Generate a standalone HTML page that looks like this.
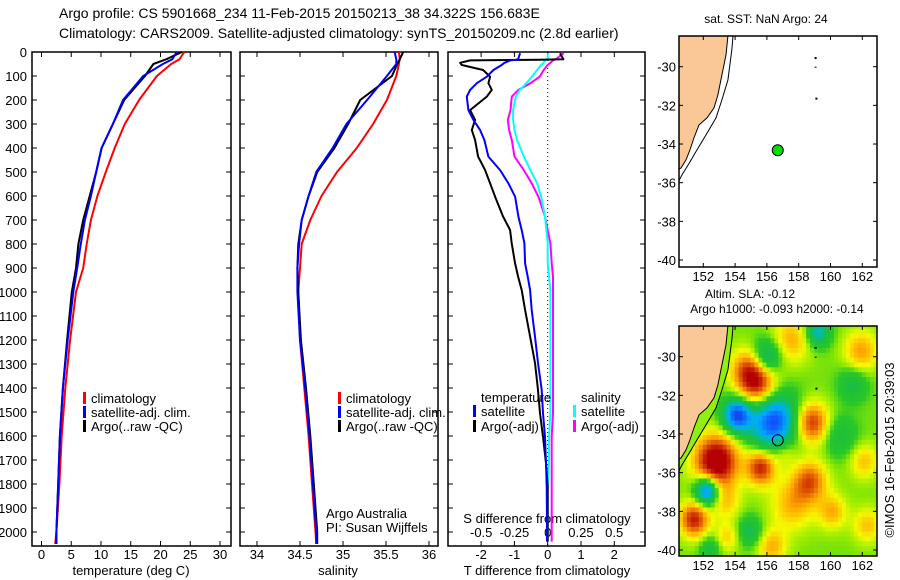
<!DOCTYPE html>
<html><head><meta charset="utf-8"><style>
body{margin:0;background:#fff;width:900px;height:580px;overflow:hidden}
svg{display:block}
text{font-family:"Liberation Sans",sans-serif;fill:#000}
</style></head><body>
<svg id="s" width="900" height="580" viewBox="0 0 900 580" xmlns="http://www.w3.org/2000/svg">
<text x="59" y="18" font-size="14">Argo profile: CS 5901668_234 11-Feb-2015 20150213_38 34.322S 156.683E</text>
<text x="59" y="38" font-size="14">Climatology: CARS2009. Satellite-adjusted climatology: synTS_20150209.nc (2.8d earlier)</text>
<g id="g"></g>
</svg>
<script>
// ---- data ----
const tDepth=[0,30,50,100,200,300,400,500,600,700,800,900,1000,1200,1400,1600,1800,2000,2050];
const tClim=[24.0,23.2,21.8,19.4,16.4,14.0,12.3,10.8,9.4,8.3,7.6,7.0,5.8,4.8,4.0,3.4,3.0,2.5,2.3];
const tSat=[22.7,22.0,20.4,17.1,13.7,12.0,10.1,9.2,8.3,7.3,6.6,6.0,5.35,4.4,3.6,3.1,2.8,2.5,2.5];
const tArgo=[23.6,21.0,18.8,17.4,13.9,12.0,10.1,9.2,8.1,7.0,6.2,5.8,5.1,4.3,3.6,3.1,2.8,2.5,2.5];
const sClim=[35.65,35.66,35.65,35.62,35.51,35.35,35.16,34.93,34.75,34.62,34.52,34.5,34.48,34.5,34.55,34.6,34.64,34.68,34.69];
const sSat=[35.6,35.62,35.62,35.51,35.28,35.04,34.88,34.69,34.6,34.52,34.49,34.47,34.47,34.5,34.56,34.61,34.65,34.69,34.69];
const sArgo=[35.7,35.66,35.63,35.57,35.2,35.06,34.9,34.7,34.6,34.52,34.48,34.47,34.48,34.51,34.57,34.62,34.66,34.7,34.7];
const dDepth=[5,30,32,35,45,54,75,103,130,158,186,242,283,325,367,436,492,547,603,686,742,797,881,936,992,1075,1186,1296,1408,1505,1603,1713,1811,1950,2040];
const dTArgo=[0.37,0.47,-0.23,-2.33,-2.63,-2.58,-1.94,-1.73,-1.78,-1.68,-1.83,-2.33,-2.18,-2.28,-2.18,-2.09,-1.88,-1.73,-1.58,-1.34,-1.13,-1.08,-0.98,-0.89,-0.78,-0.68,-0.53,-0.38,-0.29,-0.23,-0.14,-0.05,0,0,0];
const dTSat=[-0.83,-0.89,-0.95,-1.13,-1.3,-1.38,-1.63,-1.83,-2.13,-2.33,-2.43,-2.38,-2.23,-2.03,-1.9,-1.78,-1.43,-1.18,-0.98,-0.88,-0.78,-0.7,-0.68,-0.6,-0.53,-0.48,-0.38,-0.29,-0.18,-0.14,-0.08,-0.05,-0.03,-0.02,-0.02];
const dSArgo=[0.12,0.06,0.05,0.04,0.02,0,-0.03,-0.06,-0.13,-0.22,-0.27,-0.28,-0.30,-0.29,-0.27,-0.25,-0.18,-0.12,-0.07,-0.02,0,0.02,0.03,0.04,0.04,0.04,0.04,0.04,0.04,0.04,0.03,0.03,0.03,0.03,0.03];
const dSSat=[0,0,-0.01,-0.02,-0.03,-0.05,-0.08,-0.12,-0.16,-0.21,-0.24,-0.26,-0.26,-0.25,-0.23,-0.18,-0.13,-0.08,-0.05,-0.02,-0.01,0,0,0.01,0.02,0.02,0.02,0.02,0.02,0.02,0.01,0.01,0.0,0.0,0.0];
const depthTicks=[0,100,200,300,400,500,600,700,800,900,1000,1100,1200,1300,1400,1500,1600,1700,1800,1900,2000];
const tTicks=[0,5,10,15,20,25,30];
const sTicks=[34,34.5,35,35.5,36];
const sTickLabels=['34','34.5','35','35.5','36'];
const dTTicks=[-2,-1,0,1,2];
const dSTicks=[-0.5,-0.25,0,0.25,0.5];
const dSTickLabels=['-0.5','-0.25','0','0.25','0.5'];
const lonTicks=[152,154,156,158,160,162];
const latTicks=[-30,-32,-34,-36,-38,-40];
const argoLon=156.683, argoLat=-34.322;
const coastLon=[153.55,153.43,153.17,152.92,152.67,152.23,151.73,151.41,151.16,150.91,150.6,150.47];
const coastLat=[-28.41,-29.39,-30.43,-31.46,-32.13,-32.65,-33.01,-33.69,-34.31,-34.82,-35.24,-35.3];
const shelfLon=[153.87,153.8,153.55,153.17,152.8,152.17,151.6,151.16,150.66,150.47];
const shelfLat=[-28.41,-29.1,-30.69,-31.72,-32.65,-33.53,-34.31,-34.93,-35.6,-35.9];
const blobLon=[152.7,155.3,155.5,151.3,158.7,158.6,154.0,156.3,152.1,155.9,159.1,154.8,161.3,160.5,152.3,154.6,157.4,161.8,162.0,157.5,160.0,156.2,153.3,162.2,157.0,153.4];
const blobLat=[-35.3,-31.3,-35.6,-38.3,-33.3,-36.3,-32.9,-33.2,-36.8,-29.9,-28.6,-38.9,-31.3,-34.0,-39.8,-30.5,-29.0,-29.6,-35.3,-37.5,-37.9,-39.7,-37.4,-38.6,-34.8,-39.2];
const blobAmp=[1.1,0.85,0.8,0.8,0.75,0.6,-1.0,-1.0,-1.0,-0.6,-0.6,-0.4,-0.35,-0.3,-0.35,0.45,0.4,0.45,0.35,0.4,0.4,0.4,0.3,0.35,0.25,0.3];
const blobRad=[0.9,0.8,0.6,0.6,0.7,0.7,0.6,1.0,0.5,0.6,0.5,0.5,0.6,0.7,0.4,0.7,0.8,0.7,0.6,0.9,0.6,0.6,0.6,0.6,0.5,0.5];

// ---- helpers ----
const NS='http://www.w3.org/2000/svg', G=document.getElementById('g');
function mk(tag,at,parent){const e=document.createElementNS(NS,tag);for(const k in at)e.setAttribute(k,at[k]);(parent||G).appendChild(e);return e;}
function txt(x,y,s,size,anchor){const e=mk('text',{x:x,y:y,'font-size':size||13,'text-anchor':anchor||'start'});e.textContent=s;return e;}
const TOP=52,BOT=546;
const yD=d=>TOP+d*0.24;
const xT=t=>41.5+t*5.95;
const xS=s=>257+(s-34)*86;
const xDT=t=>547.7+t*33.3;
const xDS=s=>547.7+s*133;
function line(xs,ys,fx,fy,col,w,name){
  const p=xs.map((v,i)=>fx(v).toFixed(1)+','+fy(ys[i]).toFixed(1)).join(' ');
  const e=mk('polyline',{points:p,fill:'none',stroke:col,'stroke-width':w,'stroke-linejoin':'round'});
  
  
  return e;
}
function panel(x0,x1,name){
  const r=mk('rect',{x:x0,y:TOP,width:x1-x0,height:BOT-TOP,fill:'none',stroke:'#000','stroke-width':1.5});
  
  
  depthTicks.forEach(d=>{mk('line',{x1:x0,x2:x0+5,y1:yD(d),y2:yD(d),stroke:'#000'});mk('line',{x1:x1-5,x2:x1,y1:yD(d),y2:yD(d),stroke:'#000'});});
}
panel(32,231,'temperature-panel');panel(240,438,'salinity-panel');panel(448,645,'difference-panel');
depthTicks.forEach(d=>{const e=txt(27,yD(d)+5,String(d),13,'end');});
tTicks.forEach(t=>{mk('line',{x1:xT(t),x2:xT(t),y1:TOP,y2:TOP+5,stroke:'#000'});mk('line',{x1:xT(t),x2:xT(t),y1:BOT-5,y2:BOT,stroke:'#000'});const e=txt(xT(t),559,String(t),13,'middle');});
sTicks.forEach((s,i)=>{mk('line',{x1:xS(s),x2:xS(s),y1:TOP,y2:TOP+5,stroke:'#000'});mk('line',{x1:xS(s),x2:xS(s),y1:BOT-5,y2:BOT,stroke:'#000'});const e=txt(xS(s),559,sTickLabels[i],13,'middle');});
dTTicks.forEach(t=>{mk('line',{x1:xDT(t),x2:xDT(t),y1:TOP,y2:TOP+5,stroke:'#000'});mk('line',{x1:xDT(t),x2:xDT(t),y1:BOT-5,y2:BOT,stroke:'#000'});const e=txt(xDT(t),559,String(t),13,'middle');});
dSTicks.forEach((s,i)=>{const e=txt(xDS(s),537,dSTickLabels[i],13,'middle');});
mk('line',{x1:xDT(0),x2:xDT(0),y1:TOP,y2:BOT,stroke:'#000','stroke-dasharray':'1,3'});
let e;
e=txt(131,575,'temperature (deg C)',13,'middle');
e=txt(338,575,'salinity',13,'middle');
e=txt(547,575,'T difference from climatology',13,'middle');
e=txt(547,523,'S difference from climatology',13,'middle');
line(tClim,tDepth,xT,yD,'#f00',2,'temperature-climatology-line');
line(tArgo,tDepth,xT,yD,'#000',2,'temperature-argo-line');
line(tSat,tDepth,xT,yD,'#00f',2,'temperature-satellite-line');
line(sClim,tDepth,xS,yD,'#f00',2,'salinity-climatology-line');
line(sArgo,tDepth,xS,yD,'#000',2,'salinity-argo-line');
line(sSat,tDepth,xS,yD,'#00f',2,'salinity-satellite-line');
line(dSArgo,dDepth,xDS,yD,'#f0f',2,'s-diff-argo-line');
line(dSSat,dDepth,xDS,yD,'#0ff',2,'s-diff-satellite-line');
line(dTArgo,dDepth,xDT,yD,'#000',2,'t-diff-argo-line');
line(dTSat,dDepth,xDT,yD,'#00f',2,'t-diff-satellite-line');
function leg(x,y,col,label,name){mk('rect',{x:x,y:y-11,width:3,height:12,fill:col});const t=txt(x+8,y,label,13);}
leg(83,403,'#f00','climatology','legend-t-climatology');leg(83,417,'#00f','satellite-adj. clim.','legend-t-satellite');leg(83,431,'#000','Argo(..raw -QC)','legend-t-argo');
leg(338,403,'#f00','climatology','legend-s-climatology');leg(338,417,'#00f','satellite-adj. clim.','legend-s-satellite');leg(338,431,'#000','Argo(..raw -QC)','legend-s-argo');
e=txt(481,402,'temperature',13);
e=txt(581,402,'salinity',13);
leg(473,416,'#00f','satellite','legend-dt-satellite');leg(473,431,'#000','Argo(-adj)','legend-dt-argo');
leg(573,416,'#0ff','satellite','legend-ds-satellite');leg(573,431,'#f0f','Argo(-adj)','legend-ds-argo');
e=txt(326,518,'Argo Australia',13);
e=txt(326,532,'PI: Susan Wijffels',13);

// ---- maps ----
function mapAxes(top,bot,latAt30,latAt40){
  const L=679,R=877,x=lon=>703.3+(lon-152)*15.9,y=lat=>latAt30+(-30-lat)*(latAt40-latAt30)/10;
  return {L,R,top,bot,x,y};
}
const m1=mapAxes(36,267,66.7,260), m2=mapAxes(326,556,356.7,550);
const heat=mk('g',{});


const stops=[[-1.1,[0,16,150]],[-0.75,[16,90,255]],[-0.5,[0,170,255]],[-0.3,[0,190,150]],[-0.12,[30,190,60]],[0.08,[40,200,40]],[0.22,[150,235,0]],[0.38,[245,250,0]],[0.6,[255,170,0]],[0.8,[225,90,0]],[1.05,[180,0,0]]];
function cmap(v){if(v<=stops[0][0])return stops[0][1];for(let i=1;i<stops.length;i++){if(v<=stops[i][0]){const a=stops[i-1],b=stops[i],f=(v-a[0])/(b[0]-a[0]);return a[1].map((c,k)=>Math.round(c+(b[1][k]-c)*f));}}return stops[stops.length-1][1];}
const stepLon=0.25,stepLat=0.25;
for(let lon=150.47;lon<163;lon+=stepLon){for(let lat=-28.3;lat>-40.5;lat-=stepLat){
  let v=0.18;for(let i=0;i<blobLon.length;i++){const d2=((lon-blobLon[i])**2+(lat-blobLat[i])**2)/(blobRad[i]**2);v+=blobAmp[i]*Math.exp(-d2*0.45);}
  const c=cmap(v),x0=m2.x(lon),y0=m2.y(lat);
  mk('rect',{x:x0.toFixed(1),y:y0.toFixed(1),width:4.3,height:5.2,fill:'rgb('+c.join(',')+')'},heat);
}}
const clip=mk('clipPath',{id:'c2'});mk('rect',{x:679,y:326,width:198,height:230},clip);
heat.setAttribute('clip-path','url(#c2)');
function drawMap(m,name,filledDot,strip){
  const cp=mk('clipPath',{id:name+'c'});mk('rect',{x:m.L,y:m.top,width:m.R-m.L,height:m.bot-m.top},cp);
  const g=mk('g',{'clip-path':'url(#'+name+'c)'});
  
  
  let pts=coastLon.map((v,i)=>m.x(v).toFixed(1)+','+m.y(coastLat[i]).toFixed(1)).join(' ');
  let sp=shelfLon.map((v,i)=>m.x(v).toFixed(1)+','+m.y(shelfLat[i]).toFixed(1)).join(' ');
  if(strip){mk('polygon',{points:(m.L-5)+','+(m.top-5)+' '+sp+' '+(m.L-5)+','+m.y(-35.9),fill:'#90ee10'},g);}
  mk('polygon',{points:(m.L-5)+','+(m.top-5)+' '+pts+' '+(m.L-5)+','+m.y(-35.3),fill:'#f9c896',stroke:'#000','stroke-width':1},g);
  mk('polyline',{points:sp,fill:'none',stroke:'#000','stroke-width':1},g);
  mk('rect',{x:m.x(159),y:m.y(-29.5),width:2,height:2,fill:'#000'},g);
  mk('rect',{x:m.x(159),y:m.y(-30),width:2,height:1,fill:'#000'},g);
  mk('rect',{x:m.x(159.05),y:m.y(-31.6),width:2,height:2,fill:'#000'},g);
  const fr=mk('rect',{x:m.L,y:m.top,width:m.R-m.L,height:m.bot-m.top,fill:'none',stroke:'#000','stroke-width':1.5});
  
  
  lonTicks.forEach(l=>{const x=m.x(l);mk('line',{x1:x,x2:x,y1:m.top,y2:m.top+4,stroke:'#000'});mk('line',{x1:x,x2:x,y1:m.bot-4,y2:m.bot,stroke:'#000'});const t=txt(x,m.bot+14,String(l),13,'middle');});
  latTicks.forEach(l=>{const y=m.y(l);mk('line',{x1:m.L,x2:m.L+4,y1:y,y2:y,stroke:'#000'});mk('line',{x1:m.R-4,x2:m.R,y1:y,y2:y,stroke:'#000'});const t=txt(m.L-3,y+5,String(l),13,'end');});
  const dot=mk('circle',{cx:m.x(argoLon),cy:m.y(argoLat),r:5.5,fill:filledDot?'#00dd00':'none',stroke:'#000','stroke-width':1});
  
  
}
drawMap(m1,'sst-map',true,false);
drawMap(m2,'sla-map',false,true);
e=txt(766,23,'sat. SST: NaN Argo: 24',12,'middle');
e=txt(750,298,'Altim. SLA: -0.12',12,'middle');
e=txt(777,313,'Argo h1000: -0.093 h2000: -0.14',12,'middle');
e=txt(0,0,'©IMOS 16-Feb-2015 20:39:03',13,'middle');e.setAttribute('transform','translate(894,450) rotate(-90)');
</script>
</body></html>
